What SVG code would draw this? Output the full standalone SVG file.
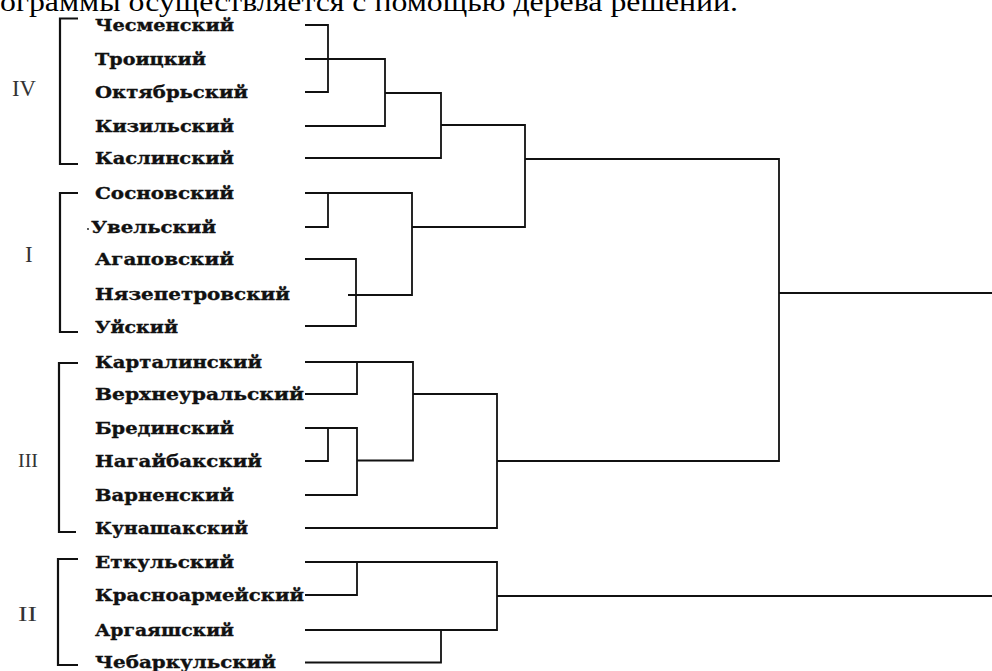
<svg xmlns="http://www.w3.org/2000/svg" width="992" height="671" viewBox="0 0 992 671">
<style>
.lbl{font-family:"DejaVu Serif","Liberation Serif",serif;font-weight:bold;font-size:17px;fill:#111;stroke:#111;stroke-width:0.35}
.rom{font-family:"Liberation Serif","Times New Roman",serif;font-size:23px;fill:#333}
.hdr{font-family:"Liberation Serif","Times New Roman",serif;font-size:27px;fill:#000}
.br{fill:none;stroke:#111;stroke-width:2.2}
.cn{fill:none;stroke:#111;stroke-width:1.8}
</style>
<rect width="992" height="671" fill="#fff"/>
<text class="hdr" x="0" y="11" textLength="738" lengthAdjust="spacingAndGlyphs">ограммы осуществляется с помощью дерева решений.</text>

<g id="group-IV">
<text class="rom" x="12" y="96" textLength="24" lengthAdjust="spacingAndGlyphs">IV</text>
<path class="br" d="M78,18.5 H60 V164 H78"/>
</g>
<g id="group-I">
<text class="rom" x="25" y="262">I</text>
<path class="br" d="M78,193 H60 V332 H78"/>
</g>
<g id="group-III">
<text class="rom" x="18" y="467" textLength="20" lengthAdjust="spacingAndGlyphs" style="font-size:18px">III</text>
<path class="br" d="M78,363 H59 V532 H76"/>
</g>
<g id="group-II">
<text class="rom" x="18" y="621" textLength="19" lengthAdjust="spacingAndGlyphs" style="font-size:20px">II</text>
<path class="br" d="M78,559 H58 V665 H78"/>
</g>

<g id="n-chesmensky"><text class="lbl" x="95" y="31" textLength="139" lengthAdjust="spacingAndGlyphs">Чесменский</text></g>
<g id="n-troitsky"><text class="lbl" x="95" y="65" textLength="111" lengthAdjust="spacingAndGlyphs">Троицкий</text></g>
<g id="n-oktyabrsky"><text class="lbl" x="95" y="98" textLength="153" lengthAdjust="spacingAndGlyphs">Октябрьский</text></g>
<g id="n-kizilsky"><text class="lbl" x="95" y="132" textLength="139" lengthAdjust="spacingAndGlyphs">Кизильский</text></g>
<g id="n-kaslinsky"><text class="lbl" x="95" y="164" textLength="139" lengthAdjust="spacingAndGlyphs">Каслинский</text></g>
<g id="n-sosnovsky"><text class="lbl" x="95" y="199" textLength="139" lengthAdjust="spacingAndGlyphs">Сосновский</text></g>
<g id="n-uvelsky"><circle cx="88" cy="229" r="0.9" fill="#111"/><text class="lbl" x="91" y="233" textLength="125" lengthAdjust="spacingAndGlyphs">Увельский</text></g>
<g id="n-agapovsky"><text class="lbl" x="95" y="265" textLength="139" lengthAdjust="spacingAndGlyphs">Агаповский</text></g>
<g id="n-nyazepetrovsky"><text class="lbl" x="95" y="299.5" textLength="195" lengthAdjust="spacingAndGlyphs">Нязепетровский</text></g>
<g id="n-uysky"><text class="lbl" x="95" y="332.5" textLength="83" lengthAdjust="spacingAndGlyphs">Уйский</text></g>
<g id="n-kartalinsky"><text class="lbl" x="95" y="368" textLength="167" lengthAdjust="spacingAndGlyphs">Карталинский</text></g>
<g id="n-verkhneuralsky"><text class="lbl" x="95" y="400" textLength="209" lengthAdjust="spacingAndGlyphs">Верхнеуральский</text></g>
<g id="n-bredinsky"><text class="lbl" x="95" y="434" textLength="139" lengthAdjust="spacingAndGlyphs">Брединский</text></g>
<g id="n-nagaybaksky"><text class="lbl" x="95" y="467" textLength="167" lengthAdjust="spacingAndGlyphs">Нагайбакский</text></g>
<g id="n-varnensky"><text class="lbl" x="95" y="501" textLength="139" lengthAdjust="spacingAndGlyphs">Варненский</text></g>
<g id="n-kunashaksky"><text class="lbl" x="95" y="533.5" textLength="153" lengthAdjust="spacingAndGlyphs">Кунашакский</text></g>
<g id="n-etkulsky"><text class="lbl" x="95" y="568" textLength="139" lengthAdjust="spacingAndGlyphs">Еткульский</text></g>
<g id="n-krasnoarmeysky"><text class="lbl" x="95" y="601" textLength="209" lengthAdjust="spacingAndGlyphs">Красноармейский</text></g>
<g id="n-argayashsky"><text class="lbl" x="95" y="635.5" textLength="139" lengthAdjust="spacingAndGlyphs">Аргаяшский</text></g>
<g id="n-chebarkulsky"><text class="lbl" x="95" y="667.5" textLength="181" lengthAdjust="spacingAndGlyphs">Чебаркульский</text></g>

<g id="connectors">
<path class="cn" d="M305,25 H328 V92 H305"/>
<path class="cn" d="M305,59 H385 V126 H305"/>
<path class="cn" d="M385,93 H441 V158 H305"/>
<path class="cn" d="M441,125 H525 V227 H412"/>
<path class="cn" d="M305,193 H412 V295 H348"/>
<path class="cn" d="M328,193 V227 H305"/>
<path class="cn" d="M305,259 H356 V326 H305"/>
<path class="cn" d="M525,159 H779 V461 H497"/>
<path class="cn" d="M779,293 H992"/>
<path class="cn" d="M305,362 H413 V460.5 H357"/>
<path class="cn" d="M357,362 V394 H305"/>
<path class="cn" d="M413,394 H497 V528 H305"/>
<path class="cn" d="M305,428 H357 V495 H305"/>
<path class="cn" d="M328,428 V461 H305"/>
<path class="cn" d="M305,562 H497 V630 H305"/>
<path class="cn" d="M357,562 V595 H305"/>
<path class="cn" d="M497,596 H992"/>
<path class="cn" d="M441,630 V662.5 H305"/>
</g>
</svg>
